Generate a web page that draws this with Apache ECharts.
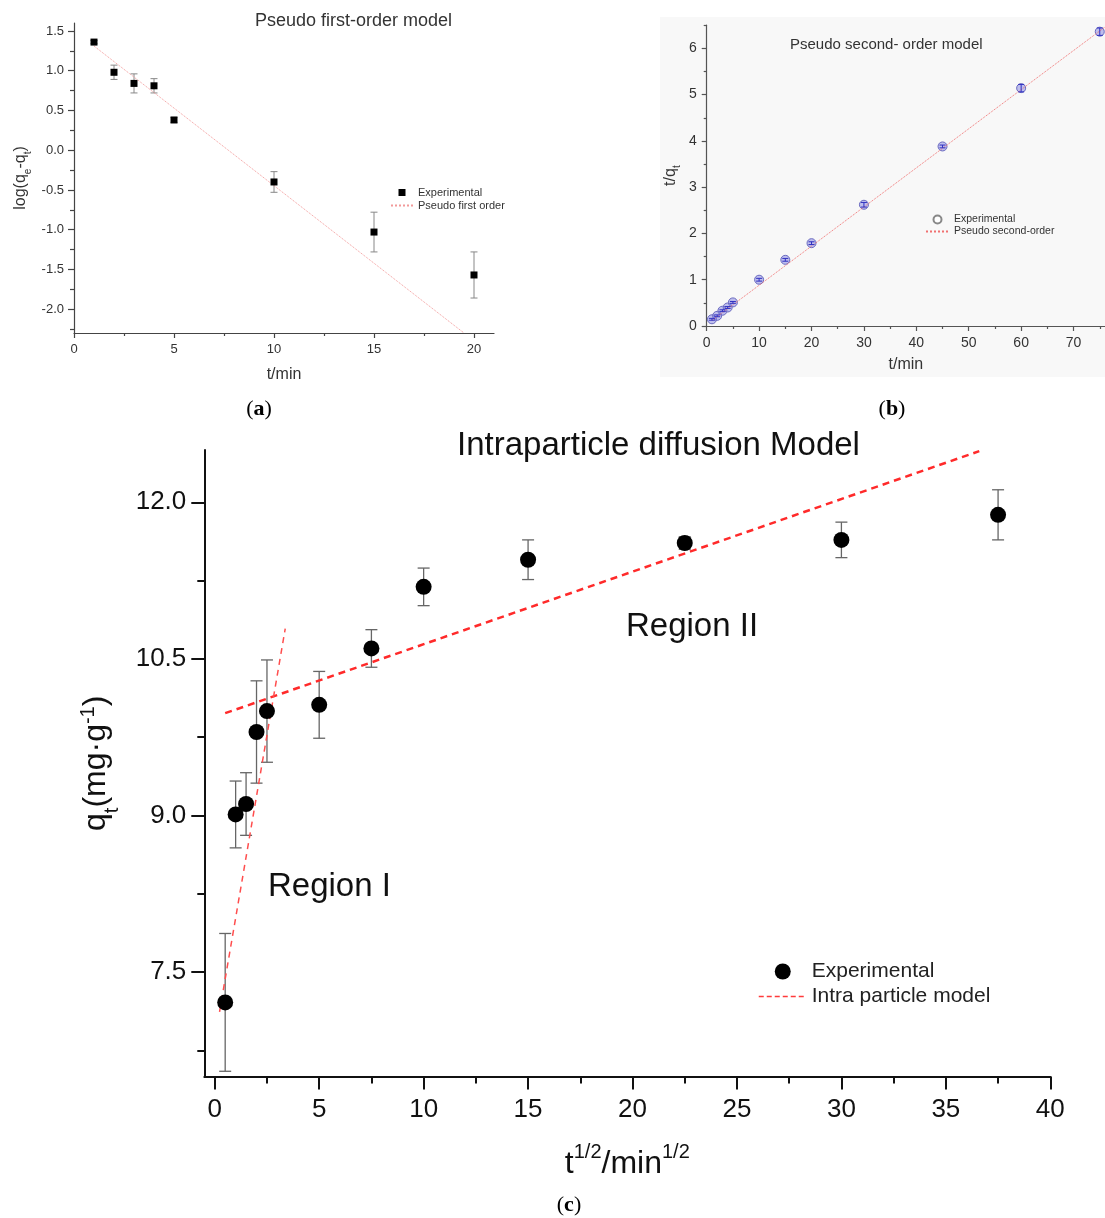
<!DOCTYPE html>
<html><head><meta charset="utf-8">
<script src="https://cdn.jsdelivr.net/npm/echarts@6/dist/echarts.min.js"></script>
<style>html,body{margin:0;padding:0;background:#fff}#c{width:1105px;height:1218px}</style>
</head><body><div id="c"></div>
<script>
// ---------- Panel (a): pseudo first-order ----------
const aTime = [1, 2, 3, 4, 5, 10, 15, 20];
const aLogQ = [1.36, 0.98, 0.84, 0.81, 0.38, -0.40, -1.03, -1.57];
const aErr  = [0.02, 0.09, 0.12, 0.09, 0.03, 0.13, 0.25, 0.29];
const aFitT = [1, 19.5];
const aFitY = [1.31, -2.30];
const aXTicks = [0, 5, 10, 15, 20];
const aXMinor = [2.5, 7.5, 12.5, 17.5];
const aYTicks = [-2.0, -1.5, -1.0, -0.5, 0.0, 0.5, 1.0, 1.5];
const aYMinor = [-2.25, -1.75, -1.25, -0.75, -0.25, 0.25, 0.75, 1.25];

// ---------- Panel (b): pseudo second-order ----------
const bTime = [1, 2, 3, 4, 5, 10, 15, 20, 30, 45, 60, 75];
const bTQ   = [0.145, 0.22, 0.33, 0.40, 0.51, 1.00, 1.43, 1.79, 2.62, 3.88, 5.14, 6.36];
const bErr  = [0.02, 0.02, 0.02, 0.02, 0.02, 0.03, 0.03, 0.03, 0.05, 0.03, 0.08, 0.08];
const bFitT = [1, 76];
const bFitY = [0.12, 6.46];
const bXTicks = [0, 10, 20, 30, 40, 50, 60, 70];
const bXMinor = [5, 15, 25, 35, 45, 55, 65, 75];
const bYTicks = [0, 1, 2, 3, 4, 5, 6];
const bYMinor = [0.5, 1.5, 2.5, 3.5, 4.5, 5.5, 6.5];

// ---------- Panel (c): intraparticle diffusion ----------
const cSqrtT = [0.5, 1, 1.5, 2, 2.5, 5, 7.5, 10, 15, 22.5, 30, 37.5];
const cQt    = [7.21, 9.01, 9.11, 9.80, 10.00, 10.06, 10.60, 11.19, 11.45, 11.61, 11.64, 11.88];
const cErr   = [0.66, 0.32, 0.30, 0.49, 0.49, 0.32, 0.18, 0.18, 0.19, 0.06, 0.17, 0.24];
const cFit1T = [0.23, 3.375];
const cFit1Y = [7.12, 10.79];
const cFit2T = [0.5, 36.6];
const cFit2Y = [9.98, 12.49];
const cXTicks = [0, 5, 10, 15, 20, 25, 30, 35, 40];
const cXMinor = [2.5, 7.5, 12.5, 17.5, 22.5, 27.5, 32.5, 37.5];
const cYTicks = [7.5, 9.0, 10.5, 12.0];
const cYMinor = [6.75, 8.25, 9.75, 11.25];

const F = "'Liberation Sans', Arial, sans-serif";
const SERIF = "'Liberation Serif', 'DejaVu Serif', serif";

function zip(xs, ys, es) { return xs.map((x, i) => es ? [x, ys[i], es[i]] : [x, ys[i]]); }

function axisPair(dim, gridIndex, min, max, majors, minors, o) {
  const pos = dim === 'x' ? 'bottom' : 'left';
  const ls = { color: o.color, width: o.lw };
  const main = {
    type: 'value', gridIndex, min, max, position: pos, offset: 0,
    axisLine: { show: true, onZero: false, lineStyle: ls },
    axisTick: { show: true, inside: false, length: o.major, customValues: majors, lineStyle: ls },
    axisLabel: { show: true, customValues: majors, margin: o.margin, fontSize: o.fs, color: o.tc,
                 fontFamily: F, formatter: o.fmt },
    splitLine: { show: false },
    name: o.name, nameLocation: 'middle', nameGap: o.nameGap,
    nameTextStyle: o.nameStyle
  };
  const minor = {
    type: 'value', gridIndex, min, max, position: pos, offset: 0,
    axisLine: { show: false, onZero: false },
    axisTick: { show: true, inside: false, length: o.minor, customValues: minors, lineStyle: ls },
    axisLabel: { show: false }, splitLine: { show: false }
  };
  return [main, minor];
}

function errRender(cap, color, width) {
  return function (params, api) {
    const x = api.value(0), y = api.value(1), e = api.value(2);
    const hi = api.coord([x, y + e]), lo = api.coord([x, y - e]);
    const st = { stroke: color, lineWidth: width };
    return { type: 'group', children: [
      { type: 'line', shape: { x1: hi[0], y1: hi[1], x2: lo[0], y2: lo[1] }, style: st },
      { type: 'line', shape: { x1: hi[0] - cap, y1: hi[1], x2: hi[0] + cap, y2: hi[1] }, style: st },
      { type: 'line', shape: { x1: lo[0] - cap, y1: lo[1], x2: lo[0] + cap, y2: lo[1] }, style: st }
    ]};
  };
}

const fmt1 = v => Number(v).toFixed(1);
const fmt0 = v => String(Math.round(v));
const hiddenSym = { color: 'rgba(0,0,0,0)', borderColor: 'rgba(0,0,0,0)', borderWidth: 0, opacity: 0 };

const ax_aX = axisPair('x', 0, 0, 21, aXTicks, aXMinor, {
  color: '#444', lw: 1.2, major: 5, minor: 3, margin: 10, fs: 13, tc: '#333', fmt: fmt0,
  name: 't/min', nameGap: 34, nameStyle: { fontSize: 16, color: '#333', fontFamily: F } });
const ax_aY = axisPair('y', 0, -2.3, 1.6, aYTicks, aYMinor, {
  color: '#444', lw: 1.2, major: 6, minor: 4, margin: 10, fs: 13, tc: '#333', fmt: fmt1,
  name: 'log(q{s|e}-q{s|t})', nameGap: 45,
  nameStyle: { fontSize: 16, color: '#333', fontFamily: F,
    rich: { s: { fontSize: 10, fontFamily: F, color: '#333', verticalAlign: 'bottom', lineHeight: 10, padding: [0, 0, -4, 0] } } } });

const ax_bX = axisPair('x', 1, 0, 76, bXTicks, bXMinor, {
  color: '#555', lw: 1.2, major: 5, minor: 3, margin: 10, fs: 14, tc: '#333', fmt: fmt0,
  name: 't/min', nameGap: 31, nameStyle: { fontSize: 16, color: '#333', fontFamily: F } });
const ax_bY = axisPair('y', 1, 0, 6.5, bYTicks, bYMinor, {
  color: '#555', lw: 1.2, major: 5, minor: 3, margin: 10, fs: 14, tc: '#333', fmt: fmt0,
  name: 't/q{s|t}', nameGap: 28,
  nameStyle: { fontSize: 16, color: '#333', fontFamily: F,
    rich: { s: { fontSize: 10, fontFamily: F, color: '#333', verticalAlign: 'bottom', lineHeight: 10, padding: [0, 0, -4, 0] } } } });

const ax_cX = axisPair('x', 2, -0.5, 40, cXTicks, cXMinor, {
  color: '#111', lw: 2, major: 13, minor: 7, margin: 20, fs: 26, tc: '#111', fmt: fmt0,
  name: '{n|t}{p|1/2}{n|/min}{p|1/2}', nameGap: 64,
  nameStyle: { fontFamily: F, color: '#111',
    rich: { n: { fontSize: 32, fontFamily: F, color: '#111', lineHeight: 40, verticalAlign: 'bottom' },
            p: { fontSize: 20, fontFamily: F, color: '#111', lineHeight: 20, verticalAlign: 'top', padding: [2, 0, 0, 0] } } } });
const ax_cY = axisPair('y', 2, 6.5, 12.5, cYTicks, cYMinor, {
  color: '#111', lw: 2, major: 13, minor: 7, margin: 18, fs: 26, tc: '#111', fmt: fmt1,
  name: '{n|q}{b|t}{n|(mg·g}{p|-1}{n|)}', nameGap: 88,
  nameStyle: { fontFamily: F, color: '#111',
    rich: { n: { fontSize: 32, fontFamily: F, color: '#111', lineHeight: 40 },
            b: { fontSize: 20, fontFamily: F, color: '#111', lineHeight: 20, verticalAlign: 'bottom', padding: [0, 0, -6, 0] },
            p: { fontSize: 20, fontFamily: F, color: '#111', lineHeight: 20, verticalAlign: 'top', padding: [2, 0, 0, 0] } } } });

// xAxis: 0 a, 1 a-minor, 2 b, 3 b-minor, 4 c, 5 c-minor
const xAxes = [...ax_aX, ...ax_bX, ...ax_cX];
// yAxis: 0 a, 1 a-minor, 2 b, 3 b-minor, 4 c, 5 c-minor
const yAxes = [...ax_aY, ...ax_bY, ...ax_cY];

const chart = echarts.init(document.getElementById('c'), null, { renderer: 'canvas' });
chart.setOption({
  backgroundColor: '#ffffff',
  animation: false,
  textStyle: { fontFamily: F },
  grid: [
    { left: 74, top: 23, width: 420, height: 310 },
    { left: 706.7, top: 25.2, width: 405.3, height: 300.8 },
    { left: 204.3, top: 450.1, width: 846, height: 626.4 }
  ],
  xAxis: xAxes,
  yAxis: yAxes,
  title: [
    { text: 'Pseudo first-order model', left: 255, top: 12, padding: 0,
      textStyle: { fontSize: 18, fontWeight: 'normal', color: '#333', fontFamily: F } },
    { text: 'Pseudo second- order model', left: 790, top: 37, padding: 0,
      textStyle: { fontSize: 15, fontWeight: 'normal', color: '#333', fontFamily: F } },
    { text: 'Intraparticle diffusion Model', left: 457, top: 429, padding: 0,
      textStyle: { fontSize: 33, fontWeight: 'normal', color: '#111', fontFamily: F } }
  ],
  legend: [
    { left: 390, top: 187, orient: 'vertical', itemGap: 2, itemWidth: 22, itemHeight: 7, padding: 0,
      selectedMode: false, textStyle: { fontSize: 11, color: '#333', fontFamily: F },
      data: [ { name: 'Experimental', icon: 'path://M0,0h10v10h-10z', itemStyle: { color: '#000', borderWidth: 0, opacity: 1 } },
              { name: 'Pseudo first order', itemStyle: hiddenSym } ] },
    { left: 925, top: 214, orient: 'vertical', itemGap: 1, itemWidth: 23, itemHeight: 8, padding: 0,
      selectedMode: false, textStyle: { fontSize: 10.5, color: '#333', fontFamily: F },
      data: [ { name: 'Experimental', icon: 'emptyCircle', itemStyle: { color: '#888', borderColor: '#888', borderWidth: 1, opacity: 1 } },
              { name: 'Pseudo second-order', itemStyle: hiddenSym } ] },
    { left: 758, top: 961, orient: 'vertical', itemGap: 4, itemWidth: 48, itemHeight: 16, padding: 0,
      selectedMode: false, textStyle: { fontSize: 21, color: '#222', fontFamily: F },
      data: [ { name: 'Experimental', icon: 'circle', itemStyle: { color: '#000', borderWidth: 0, opacity: 1 } },
              { name: 'Intra particle model', itemStyle: hiddenSym, lineStyle: { width: 1.5, color: '#ff3b3b', type: [5, 3] } } ] }
  ],
  graphic: [
    { type: 'rect', z: -100, shape: { x: 660, y: 17, width: 445, height: 360 }, style: { fill: '#f8f8f8' }, silent: true },
    { type: 'text', x: 626, y: 627, style: { text: 'Region II', font: '33px ' + F, fill: '#111', verticalAlign: 'middle' } },
    { type: 'text', x: 268, y: 887, style: { text: 'Region I', font: '33px ' + F, fill: '#111', verticalAlign: 'middle' } },
    { type: 'text', x: 259, y: 409, style: { text: '{n|(}{b|a}{n|)}', align: 'center', verticalAlign: 'middle',
        rich: { n: { fontSize: 22, fontFamily: SERIF, fill: '#000' }, b: { fontSize: 22, fontFamily: SERIF, fontWeight: 'bold', fill: '#000' } } } },
    { type: 'text', x: 892, y: 409, style: { text: '{n|(}{b|b}{n|)}', align: 'center', verticalAlign: 'middle',
        rich: { n: { fontSize: 22, fontFamily: SERIF, fill: '#000' }, b: { fontSize: 22, fontFamily: SERIF, fontWeight: 'bold', fill: '#000' } } } },
    { type: 'text', x: 569, y: 1205, style: { text: '{n|(}{b|c}{n|)}', align: 'center', verticalAlign: 'middle',
        rich: { n: { fontSize: 22, fontFamily: SERIF, fill: '#000' }, b: { fontSize: 22, fontFamily: SERIF, fontWeight: 'bold', fill: '#000' } } } }
  ],
  series: [
    // (a)
    { type: 'custom', name: 'err-a', xAxisIndex: 0, yAxisIndex: 0, z: 1, silent: true,
      renderItem: errRender(3.5, '#888', 1), data: zip(aTime, aLogQ, aErr), encode: { x: 0, y: 1 } },
    { type: 'line', name: 'Pseudo first order', xAxisIndex: 0, yAxisIndex: 0, symbol: 'none', z: 3,
      lineStyle: { color: '#f29a9a', width: 1, type: 'dotted' }, itemStyle: { color: '#f29a9a' },
      data: zip(aFitT, aFitY) },
    { type: 'scatter', name: 'Experimental', xAxisIndex: 0, yAxisIndex: 0, symbol: 'rect', symbolSize: 7, z: 4,
      itemStyle: { color: '#000', opacity: 1 }, data: zip(aTime, aLogQ) },
    // (b)
    { type: 'scatter', name: 'Experimental', xAxisIndex: 2, yAxisIndex: 2, symbol: 'circle', symbolSize: 9, z: 2,
      itemStyle: { color: 'rgba(120,120,225,0.45)', borderColor: '#6a6ac0', borderWidth: 1, opacity: 1 }, data: zip(bTime, bTQ) },
    { type: 'line', name: 'Pseudo second-order', xAxisIndex: 2, yAxisIndex: 2, symbol: 'none', z: 3,
      lineStyle: { color: '#f07070', width: 1, type: 'dotted' }, itemStyle: { color: '#f07070' },
      data: zip(bFitT, bFitY) },
    { type: 'custom', name: 'err-b', xAxisIndex: 2, yAxisIndex: 2, z: 4, silent: true,
      renderItem: errRender(3, '#3030c0', 1), data: zip(bTime, bTQ, bErr), encode: { x: 0, y: 1 } },
    // (c)
    { type: 'custom', name: 'err-c', xAxisIndex: 4, yAxisIndex: 4, z: 1, silent: true,
      renderItem: errRender(6, '#666', 1.3), data: zip(cSqrtT, cQt, cErr), encode: { x: 0, y: 1 } },
    { type: 'line', name: 'Intra particle model', xAxisIndex: 4, yAxisIndex: 4, symbol: 'none', z: 3,
      lineStyle: { color: '#ff2a2a', width: 2.5, type: [7, 5] }, itemStyle: { color: '#ff2a2a' },
      data: zip(cFit2T, cFit2Y) },
    { type: 'line', name: 'Intra particle model', xAxisIndex: 4, yAxisIndex: 4, symbol: 'none', z: 3,
      lineStyle: { color: '#ff4d4d', width: 1.5, type: [6, 5] }, itemStyle: { color: '#ff4d4d' },
      data: zip(cFit1T, cFit1Y) },
    { type: 'scatter', name: 'Experimental', xAxisIndex: 4, yAxisIndex: 4, symbol: 'circle', symbolSize: 16, z: 4,
      itemStyle: { color: '#000', opacity: 1 }, data: zip(cSqrtT, cQt) }
  ]
});
</script></body></html>
